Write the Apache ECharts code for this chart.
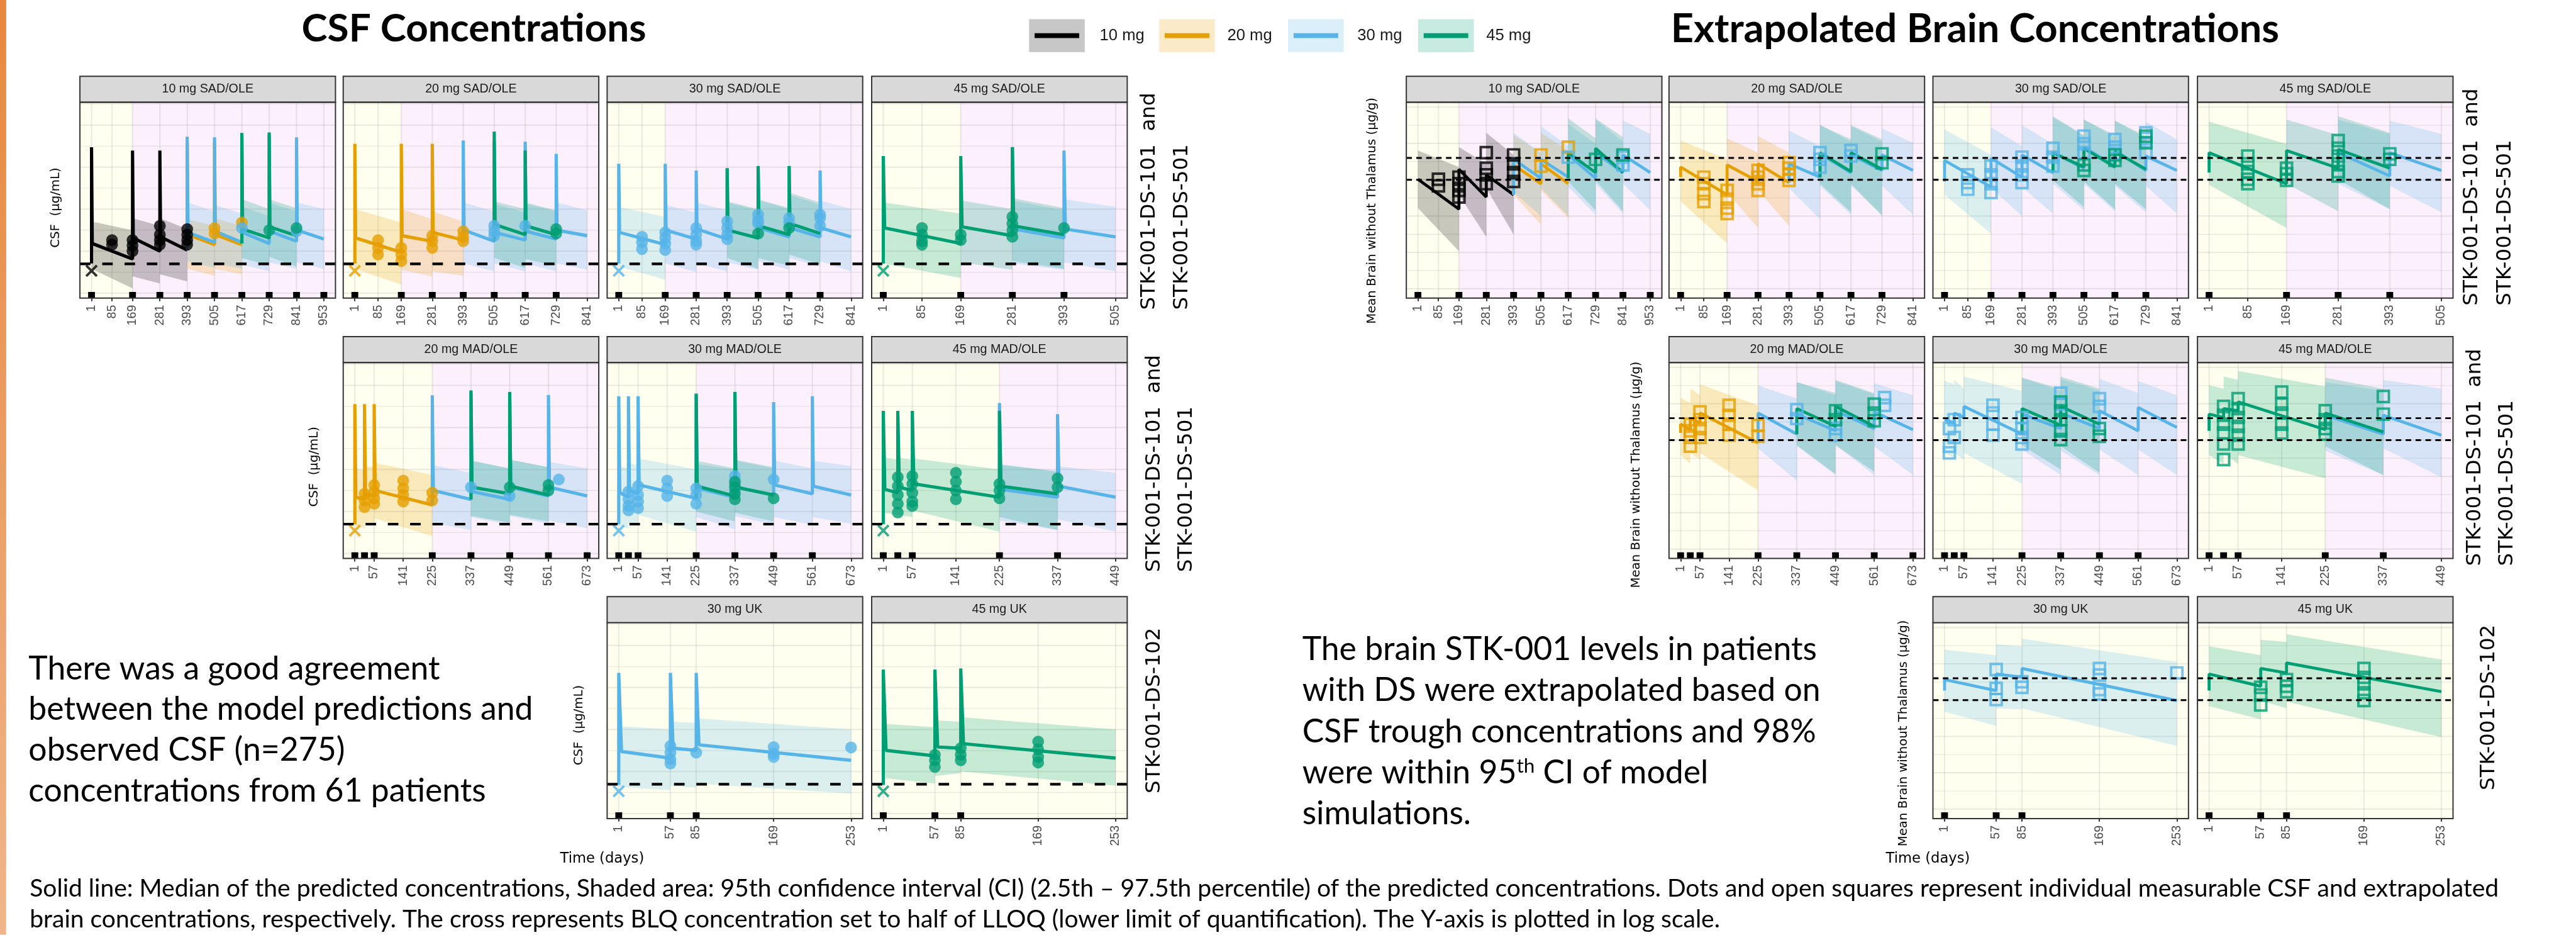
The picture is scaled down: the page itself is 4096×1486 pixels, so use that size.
<!DOCTYPE html>
<html>
<head>
<meta charset="utf-8">
<script src="https://cdn.jsdelivr.net/npm/echarts/dist/echarts.min.js"></script>
<style>
html,body{margin:0;padding:0;background:#ffffff;overflow:hidden;}
#chart{width:4096px;height:1486px;}
</style>
</head>
<body>
<div id="chart"></div>
<script>
// ------------------------------------------------------------------ data
const doseGroups = ['10 mg', '20 mg', '30 mg', '45 mg'];
const panelNames = ['10 mg SAD/OLE', '20 mg SAD/OLE', '30 mg SAD/OLE', '45 mg SAD/OLE',
  '20 mg MAD/OLE', '30 mg MAD/OLE', '45 mg MAD/OLE', '30 mg UK', '45 mg UK'];
const panelTicks = [
  [1, 85, 169, 281, 393, 505, 617, 729, 841, 953],
  [1, 85, 169, 281, 393, 505, 617, 729, 841],
  [1, 85, 169, 281, 393, 505, 617, 729, 841],
  [1, 85, 169, 281, 393, 505],
  [1, 57, 141, 225, 337, 449, 561, 673],
  [1, 57, 141, 225, 337, 449, 561, 673],
  [1, 57, 141, 225, 337, 449],
  [1, 57, 85, 169, 253],
  [1, 57, 85, 169, 253]
];
const oleStartDay = [169, 169, 169, 169, 225, 225, 225, null, null];
const doseDays = [
  [1, 169, 281, 393, 505, 617, 729, 841, 953],
  [1, 169, 281, 393, 505, 617, 729],
  [1, 169, 281, 393, 505, 617, 729],
  [1, 169, 281, 393],
  [1, 29, 57, 225, 337, 449, 561, 673],
  [1, 29, 57, 225, 337, 449, 561],
  [1, 29, 57, 225, 337],
  [1, 57, 85],
  [1, 57, 85]
];
const studyLabels = [['STK-001-DS-101  and', 'STK-001-DS-501'], ['STK-001-DS-101  and', 'STK-001-DS-501'], ['STK-001-DS-102']];

const csfLLOQ = 0.005;            // µg/mL
const brainTargetRange = [1, 4];  // µg/g
const csfAxisRange = [0.000762, 34.9];
const brainAxisRange = [0.00055, 135.8];
const postPeakDays = 3;

// CSF median + 95% CI per dosing interval
// [panel, doseGroup, doseDay, nextDay, preDose, peak, postPeak, trough, upper0, upper1, lower0, lower1]
const csfCurves = [
  [0,0,1,169,0.0051,2.98,0.0152,0.0065,0.051,0.0315,0.0038,0.0013],
  [0,0,169,281,null,2.48,0.0206,0.0100,0.061,0.040,0.0025,0.0017],
  [0,0,281,393,null,2.48,0.0219,0.0106,0.061,0.0335,0.0028,0.0019],
  [0,1,393,505,0.0106,4.0,0.0247,0.0143,0.058,0.040,0.0038,0.0026],
  [0,1,505,617,null,4.0,0.0247,0.0143,0.061,0.040,0.0038,0.0028],
  [0,2,393,505,0.0106,5.3,0.0279,0.0162,0.144,0.088,0.0058,0.0040],
  [0,2,505,617,null,5.1,0.0297,0.0162,0.127,0.078,0.0051,0.0038],
  [0,2,617,729,null,5.5,0.0279,0.0152,0.113,0.069,0.0048,0.0033],
  [0,2,729,841,null,5.7,0.0297,0.0172,0.144,0.088,0.0054,0.0038],
  [0,2,841,953,null,5.1,0.0315,0.0194,0.144,0.100,0.0054,0.0038],
  [0,3,617,729,0.0152,6.5,0.0335,0.0206,0.172,0.100,0.0069,0.0045],
  [0,3,729,841,null,6.7,0.0378,0.0233,0.172,0.106,0.0074,0.0043],
  [1,1,1,169,0.0051,3.6,0.0206,0.0094,0.100,0.048,0.0038,0.0016],
  [1,1,169,281,null,3.6,0.0233,0.0172,0.100,0.058,0.0036,0.0025],
  [1,1,281,393,null,3.6,0.0279,0.0183,0.088,0.051,0.0033,0.0026],
  [1,2,393,505,0.0183,4.3,0.0315,0.0172,0.144,0.088,0.0051,0.0033],
  [1,2,505,617,null,4.0,0.0279,0.0183,0.135,0.083,0.0051,0.0033],
  [1,2,617,729,null,4.0,0.0297,0.0194,0.135,0.088,0.0051,0.0033],
  [1,2,729,841,null,2.07,0.0315,0.0233,0.144,0.094,0.0051,0.0036],
  [1,3,505,617,0.0172,7.0,0.0427,0.0247,0.153,0.100,0.0069,0.0040],
  [1,3,617,729,null,2.48,0.040,0.0247,0.144,0.094,0.0065,0.0045],
  [2,2,1,169,0.0051,1.2,0.0279,0.0143,0.113,0.065,0.0043,0.0021],
  [2,2,169,281,null,1.2,0.0315,0.0194,0.127,0.083,0.0051,0.0032],
  [2,2,281,393,null,0.83,0.0335,0.0194,0.144,0.094,0.0051,0.0033],
  [2,2,393,505,null,0.94,0.0315,0.0206,0.144,0.094,0.0054,0.0036],
  [2,2,505,617,null,1.06,0.0356,0.0219,0.162,0.100,0.0058,0.0036],
  [2,2,617,729,null,1.06,0.0356,0.0219,0.22,0.127,0.0069,0.0043],
  [2,2,729,841,null,0.83,0.0356,0.0219,0.162,0.100,0.0058,0.0033],
  [2,3,393,505,0.0194,0.94,0.0315,0.0206,0.153,0.100,0.0069,0.0038],
  [2,3,505,617,null,1.06,0.040,0.0247,0.172,0.106,0.0069,0.0045],
  [2,3,617,729,null,1.06,0.0454,0.0263,0.248,0.144,0.0083,0.0048],
  [3,3,1,169,0.0051,1.83,0.0356,0.0152,0.144,0.078,0.0051,0.0023],
  [3,3,169,281,null,1.83,0.0378,0.0233,0.162,0.100,0.0054,0.0036],
  [3,3,281,393,null,2.98,0.040,0.0247,0.183,0.106,0.0058,0.0038],
  [3,2,281,393,0.0233,2.98,0.0335,0.0206,0.162,0.094,0.0051,0.0036],
  [3,2,393,505,null,2.48,0.0335,0.0219,0.172,0.113,0.0054,0.0033],
  [4,1,1,29,0.0050,3.6,0.0219,0.0194,0.106,0.094,0.0045,0.0040],
  [4,1,29,57,null,3.6,0.0263,0.0233,0.120,0.113,0.0051,0.0045],
  [4,1,57,225,null,3.6,0.0315,0.0143,0.144,0.074,0.0069,0.0026],
  [4,2,225,337,0.0143,5.8,0.0315,0.0194,0.127,0.083,0.0054,0.0036],
  [4,2,337,449,null,6.5,0.0297,0.0194,0.162,0.106,0.0074,0.0048],
  [4,2,449,561,null,6.5,0.0378,0.0233,0.172,0.113,0.0078,0.0051],
  [4,2,561,673,null,5.9,0.0378,0.0233,0.153,0.106,0.0061,0.0040],
  [4,3,337,449,0.0194,7.6,0.0378,0.0263,0.162,0.106,0.0078,0.0054],
  [4,3,449,561,null,7.0,0.040,0.0247,0.172,0.113,0.0083,0.0058],
  [5,2,1,29,0.0050,5.5,0.0279,0.0219,0.120,0.106,0.0045,0.0040],
  [5,2,29,57,null,5.5,0.0315,0.0263,0.144,0.127,0.0054,0.0048],
  [5,2,57,225,null,5.5,0.0427,0.0206,0.183,0.100,0.0083,0.0033],
  [5,2,225,337,null,6.5,0.0356,0.0219,0.135,0.100,0.0074,0.0038],
  [5,2,337,449,null,7.0,0.0378,0.0247,0.162,0.106,0.0078,0.0048],
  [5,2,449,561,null,4.0,0.0427,0.0263,0.162,0.106,0.0074,0.0048],
  [5,2,561,673,null,5.5,0.040,0.0247,0.162,0.120,0.0074,0.0051],
  [5,3,225,337,0.0206,6.2,0.040,0.0233,0.162,0.106,0.0100,0.0058],
  [5,3,337,449,null,7.0,0.0378,0.0247,0.172,0.113,0.0094,0.0058],
  [6,3,1,29,0.0050,2.48,0.0335,0.0279,0.194,0.172,0.0094,0.0083],
  [6,3,29,57,null,2.48,0.0378,0.0315,0.194,0.172,0.0083,0.0074],
  [6,3,57,225,null,2.48,0.0454,0.0219,0.183,0.100,0.0106,0.0033],
  [6,3,225,337,null,2.48,0.040,0.0263,0.135,0.088,0.0074,0.0036],
  [6,2,225,337,0.0219,3.8,0.0335,0.0219,0.127,0.094,0.0061,0.0036],
  [6,2,337,449,null,2.07,0.040,0.0219,0.120,0.083,0.0065,0.0033],
  [7,2,1,57,0.0048,2.23,0.030,0.0209,0.121,0.101,0.0043,0.0036],
  [7,2,57,85,null,2.23,0.036,0.0319,0.154,0.145,0.0046,0.0041],
  [7,2,85,253,null,2.23,0.0432,0.0185,0.185,0.101,0.0052,0.0030],
  [8,3,1,57,0.0048,2.67,0.0319,0.0236,0.137,0.114,0.0070,0.0052],
  [8,3,57,85,null,2.67,0.0383,0.036,0.164,0.154,0.0078,0.0092],
  [8,3,85,253,null,2.84,0.0459,0.0209,0.197,0.101,0.0101,0.0046]
];

// observed CSF concentrations [panel, doseGroup, day, µg/mL]
const csfObs = [
  [0,0,85,0.0183],[0,0,85,0.0143],[0,0,169,0.0183],[0,0,169,0.0135],[0,0,169,0.0100],
  [0,0,281,0.040],[0,0,281,0.0247],[0,0,281,0.0183],[0,0,281,0.0143],
  [0,0,393,0.0335],[0,0,393,0.0247],[0,0,393,0.0183],[0,0,393,0.0143],
  [0,1,505,0.0356],[0,1,505,0.0263],[0,1,617,0.0482],[0,2,617,0.0356],[0,3,729,0.0315],[0,3,841,0.0356],[0,2,841,0.0297],
  [1,1,85,0.0183],[1,1,85,0.012],[1,1,85,0.0083],[1,1,169,0.012],[1,1,169,0.0083],[1,1,169,0.0058],
  [1,1,281,0.0233],[1,1,281,0.0172],[1,1,281,0.012],[1,1,393,0.0297],[1,1,393,0.0219],[1,1,393,0.0172],
  [1,2,505,0.040],[1,2,505,0.0297],[1,2,505,0.0233],[1,2,617,0.040],[1,3,729,0.0335],[1,3,729,0.0263],
  [2,2,85,0.0219],[2,2,85,0.0162],[2,2,85,0.0112],
  [2,2,169,0.0279],[2,2,169,0.0206],[2,2,169,0.0152],[2,2,169,0.0106],
  [2,2,281,0.0356],[2,2,281,0.0247],[2,2,281,0.0172],[2,2,281,0.0143],
  [2,2,393,0.0512],[2,2,393,0.0356],[2,2,393,0.0247],[2,2,393,0.0194],
  [2,2,505,0.0737],[2,2,505,0.0544],[2,2,505,0.0454],[2,2,617,0.0614],[2,2,617,0.0482],
  [2,2,729,0.0737],[2,2,729,0.0614],[2,2,729,0.040],[2,3,505,0.0263],[2,3,617,0.0356],
  [3,3,85,0.0356],[3,3,85,0.0247],[3,3,85,0.0172],[3,3,85,0.0143],[3,3,169,0.0247],[3,3,169,0.0183],
  [3,3,281,0.0653],[3,3,281,0.0454],[3,3,281,0.0315],[3,3,281,0.0219],[3,3,393,0.0356],
  [4,1,29,0.0263],[4,1,29,0.0183],[4,1,29,0.0127],
  [4,1,57,0.0427],[4,1,57,0.0297],[4,1,57,0.0206],[4,1,57,0.0152],
  [4,1,141,0.0544],[4,1,141,0.0356],[4,1,141,0.0247],[4,1,141,0.0172],
  [4,1,225,0.0279],[4,1,225,0.0183],[4,2,337,0.0378],[4,2,449,0.0233],[4,2,591,0.0578],
  [4,3,449,0.0378],[4,3,561,0.0427],[4,3,561,0.0315],
  [5,2,29,0.0297],[5,2,29,0.0194],[5,2,29,0.0135],[5,2,29,0.0106],
  [5,2,57,0.040],[5,2,57,0.0247],[5,2,57,0.0172],[5,2,57,0.012],
  [5,2,141,0.0544],[5,2,141,0.0356],[5,2,141,0.0233],
  [5,2,225,0.0356],[5,2,225,0.0247],[5,2,225,0.0152],
  [5,2,337,0.0694],[5,2,337,0.0454],[5,2,337,0.0315],[5,2,449,0.0578],
  [5,3,337,0.0512],[5,3,337,0.0378],[5,3,337,0.0263],[5,3,337,0.0194],[5,3,449,0.0206],
  [6,3,29,0.0653],[6,3,29,0.040],[6,3,29,0.0247],[6,3,29,0.0152],[6,3,29,0.0094],
  [6,3,57,0.0694],[6,3,57,0.0454],[6,3,57,0.0279],[6,3,57,0.0172],[6,3,57,0.0135],
  [6,3,141,0.0832],[6,3,141,0.0512],[6,3,141,0.0315],[6,3,141,0.0194],
  [6,3,225,0.0454],[6,3,225,0.0315],[6,3,225,0.0206],[6,3,337,0.0614],[6,3,337,0.0378],
  [7,2,57,0.0407],[7,2,57,0.0283],[7,2,57,0.0196],[7,2,57,0.0154],[7,2,85,0.0283],
  [7,2,169,0.0383],[7,2,169,0.0266],[7,2,169,0.0222],[7,2,253,0.0374],
  [8,3,57,0.025],[8,3,57,0.0185],[8,3,57,0.0129],[8,3,85,0.036],[8,3,85,0.025],[8,3,85,0.0185],
  [8,3,169,0.0518],[8,3,169,0.0339],[8,3,169,0.0222],[8,3,169,0.0164]
];

// BLQ samples set to half LLOQ [panel, doseGroup, day, µg/mL]
const csfBlq = [
  [0,0,1,0.0034],[1,1,1,0.0034],[2,2,1,0.0034],[3,3,1,0.0034],[4,1,1,0.0035],
  [5,2,1,0.0035],[6,3,1,0.0035],[7,2,1,0.0034],[8,3,1,0.0034]
];

// Brain median + 95% CI per dosing interval
// [panel, doseGroup, doseDay, nextDay, preDose, postDose, trough, upper0, upper1, lower0, lower1]
const brainCurves = [
  [0,0,1,169,null,1.03,0.155,6.4,2.23,0.166,0.0108],
  [0,0,169,281,null,1.94,0.335,7.9,2.75,0.386,0.0268],
  [0,0,281,393,null,1.36,0.386,19.6,4.8,0.587,0.0309],
  [0,1,393,505,0.386,2.56,0.778,17.0,5.55,0.386,0.058],
  [0,1,505,617,null,2.75,0.778,19.6,6.4,0.51,0.088],
  [0,2,393,505,0.386,3.64,1.10,19.6,5.55,0.444,0.102],
  [0,2,505,617,null,3.64,1.18,29.9,8.45,0.587,0.102],
  [0,2,617,729,null,4.82,1.10,34.4,9.7,0.63,0.109],
  [0,2,729,841,null,5.55,1.57,45.5,11.2,0.778,0.117],
  [0,2,841,953,null,4.82,1.57,42.4,18.3,0.778,0.144],
  [0,3,617,729,1.10,5.55,1.57,48.8,13.8,0.895,0.144],
  [0,3,729,841,null,7.34,1.57,48.8,14.8,0.96,0.135],
  [1,1,1,169,1.18,2.23,0.386,12.0,3.64,0.253,0.0176],
  [1,1,169,281,null,2.56,0.895,13.8,5.55,0.444,0.047],
  [1,1,281,393,null,2.75,0.834,15.9,5.55,0.51,0.054],
  [1,2,393,505,0.834,2.75,1.18,22.6,8.45,0.587,0.082],
  [1,2,505,617,null,5.17,1.57,32.0,11.2,0.676,0.109],
  [1,2,617,729,null,4.82,1.80,29.9,11.2,0.676,0.109],
  [1,2,729,841,null,4.82,1.80,26.0,10.4,0.676,0.109],
  [1,3,505,617,1.18,5.55,1.68,32.0,12.9,0.778,0.126],
  [1,3,617,729,null,5.55,1.94,32.0,12.9,0.778,0.102],
  [2,2,1,169,0.895,3.40,0.63,24.2,4.82,0.386,0.033],
  [2,2,169,281,null,3.91,1.18,27.8,8.45,0.587,0.102],
  [2,2,281,393,null,4.82,1.57,32.0,9.7,0.63,0.117],
  [2,2,393,505,null,5.55,2.08,52.4,15.9,0.778,0.144],
  [2,2,505,617,null,7.88,2.39,45.5,14.8,0.778,0.135],
  [2,2,617,729,null,6.38,1.80,42.4,13.8,0.676,0.126],
  [2,2,729,841,null,4.49,1.80,39.5,12.9,0.676,0.117],
  [2,3,393,505,1.57,5.55,2.23,56.2,17.0,0.96,0.178],
  [2,3,505,617,null,7.34,2.23,45.5,17.0,0.895,0.155],
  [2,3,617,729,null,5.95,1.94,42.4,15.9,0.778,0.155],
  [3,3,1,169,1.57,5.55,0.778,39.5,9.7,0.725,0.047],
  [3,3,169,281,null,6.38,2.08,45.5,17.0,0.778,0.135],
  [3,3,281,393,null,6.84,2.08,56.2,19.6,1.03,0.155],
  [3,2,281,393,2.08,5.55,1.27,45.5,18.3,0.778,0.155],
  [3,2,393,505,null,5.55,1.80,42.4,18.3,0.676,0.126],
  [4,1,1,29,1.57,2.75,1.94,14.8,10.4,0.386,0.22],
  [4,1,29,57,null,3.91,2.95,26.0,17.0,0.444,0.291],
  [4,1,57,225,null,5.55,0.834,34.4,9.06,0.444,0.041],
  [4,2,225,337,0.834,5.55,1.46,32.0,13.8,0.587,0.077],
  [4,2,337,449,null,5.17,1.80,39.5,17.0,0.676,0.109],
  [4,2,449,561,null,6.38,2.08,42.4,18.3,0.725,0.109],
  [4,2,561,673,null,5.95,1.94,36.9,17.0,0.676,0.109],
  [4,3,337,449,1.46,7.34,2.39,39.5,19.6,0.725,0.117],
  [4,3,449,561,null,8.45,2.39,45.5,19.6,0.725,0.135],
  [5,2,1,29,null,3.64,2.95,42.4,34.4,0.444,0.313],
  [5,2,29,57,null,5.55,4.19,45.5,26.0,0.444,0.291],
  [5,2,57,225,null,8.45,1.46,56.2,22.6,0.444,0.062],
  [5,2,225,337,null,5.17,2.08,52.4,22.6,0.548,0.109],
  [5,2,337,449,null,5.55,2.08,48.8,22.6,0.51,0.109],
  [5,2,449,561,null,6.38,1.80,48.8,19.6,0.548,0.109],
  [5,2,561,673,null,7.88,2.23,42.4,17.0,0.548,0.109],
  [5,3,225,337,1.46,7.34,2.56,52.4,26.0,0.725,0.155],
  [5,3,337,449,null,8.45,2.75,56.2,26.0,0.676,0.126],
  [6,3,1,29,1.80,5.17,4.19,32.0,26.0,0.386,0.22],
  [6,3,29,57,null,7.34,6.38,56.2,45.5,0.444,0.22],
  [6,3,57,225,null,11.2,1.94,79.8,29.9,0.386,0.088],
  [6,3,225,337,null,5.55,1.68,52.4,26.0,0.676,0.109],
  [6,2,225,337,1.94,4.82,1.46,39.5,22.6,0.51,0.109],
  [6,2,337,449,null,4.82,1.36,45.5,26.0,0.587,0.095],
  [7,2,1,57,1.83,3.69,1.83,24.5,17.3,0.483,0.194],
  [7,2,57,85,null,5.24,4.25,34.8,30.3,0.596,0.556],
  [7,2,85,253,null,7.45,0.973,49.5,11.3,0.596,0.055],
  [8,3,1,57,1.83,5.24,2.42,30.3,17.3,0.686,0.295],
  [8,3,57,85,null,7.45,5.62,46.1,40.1,0.973,0.596],
  [8,3,85,253,null,10.6,1.71,65.5,13.1,0.907,0.096]
];

// extrapolated brain concentrations [panel, doseGroup, day, µg/g]
const brainObs = [
  [0,0,85,1.03],[0,0,85,0.676],[0,0,169,1.18],[0,0,169,0.778],[0,0,169,0.51],[0,0,169,0.335],
  [0,0,281,5.55],[0,0,281,2.08],[0,0,281,1.36],[0,0,281,0.778],
  [0,0,393,4.82],[0,0,393,2.75],[0,0,393,1.57],[0,0,393,0.895],
  [0,1,505,4.82],[0,1,505,2.39],[0,1,617,7.88],[0,2,617,4.19],[0,3,729,3.64],[0,3,841,4.82],[0,2,841,4.19],[0,2,841,2.56],
  [1,1,85,1.18],[1,1,85,0.778],[1,1,85,0.414],[1,1,85,0.253],[1,1,169,0.51],[1,1,169,0.291],[1,1,169,0.166],[1,1,169,0.117],
  [1,1,281,1.80],[1,1,281,1.18],[1,1,281,0.778],[1,1,281,0.51],[1,1,393,2.95],[1,1,393,2.08],[1,1,393,1.36],[1,1,393,0.96],
  [1,2,505,5.55],[1,2,505,3.64],[1,2,505,2.23],[1,2,617,6.38],[1,2,617,4.49],[1,3,729,5.17],[1,3,729,2.95],
  [2,2,85,1.36],[2,2,85,0.834],[2,2,85,0.548],[2,2,169,2.39],[2,2,169,1.36],[2,2,169,0.778],[2,2,169,0.444],
  [2,2,281,4.19],[2,2,281,2.39],[2,2,281,1.36],[2,2,281,0.834],[2,2,393,7.34],[2,2,393,4.19],[2,2,393,2.39],
  [2,2,505,15.9],[2,2,505,9.7],[2,2,505,5.55],[2,2,617,12.9],[2,2,617,7.88],[2,2,617,5.17],
  [2,2,729,19.6],[2,2,729,13.8],[2,2,729,5.55],
  [2,3,505,2.56],[2,3,505,1.80],[2,3,617,4.82],[2,3,617,3.40],[2,3,729,15.9],[2,3,729,10.4],
  [3,3,85,4.49],[3,3,85,2.75],[3,3,85,1.68],[3,3,85,1.03],[3,3,85,0.778],[3,3,169,2.08],[3,3,169,1.46],[3,3,169,0.96],
  [3,3,281,12.0],[3,3,281,7.34],[3,3,281,4.49],[3,3,281,2.75],[3,3,281,1.68],[3,3,281,1.27],[3,3,393,5.17],[3,3,393,3.64],
  [4,1,29,2.75],[4,1,29,1.80],[4,1,29,1.18],[4,1,29,0.676],[4,1,57,5.95],[4,1,57,3.64],[4,1,57,2.08],[4,1,57,1.18],
  [4,1,141,9.06],[4,1,141,4.82],[4,1,141,2.75],[4,1,141,1.36],[4,1,225,2.56],[4,1,225,1.27],
  [4,2,337,6.84],[4,2,337,3.91],[4,2,449,2.08],[4,2,449,1.36],[4,2,591,14.8],[4,2,591,9.06],
  [4,3,449,6.38],[4,3,449,3.64],[4,3,561,9.7],[4,3,561,5.55],[4,3,561,3.40],
  [5,2,15,2.08],[5,2,15,0.676],[5,2,15,0.444],[5,2,29,3.64],[5,2,29,1.18],
  [5,2,141,9.06],[5,2,141,5.55],[5,2,141,2.75],[5,2,141,1.36],[5,2,225,4.19],[5,2,225,2.08],[5,2,225,1.18],[5,2,225,0.778],
  [5,2,337,19.6],[5,2,337,9.7],[5,2,337,1.80],[5,2,449,13.8],[5,2,449,8.45],
  [5,3,337,11.2],[5,3,337,6.38],[5,3,337,3.64],[5,3,337,1.80],[5,3,337,1.03],[5,3,449,2.08],[5,3,449,1.27],
  [6,3,29,8.45],[6,3,29,4.82],[6,3,29,2.75],[6,3,29,1.57],[6,3,29,0.778],[6,3,29,0.291],
  [6,3,57,13.8],[6,3,57,7.34],[6,3,57,4.19],[6,3,57,2.39],[6,3,57,1.36],[6,3,57,0.778],
  [6,3,141,21.0],[6,3,141,9.7],[6,3,141,5.55],[6,3,141,2.75],[6,3,141,1.57],
  [6,3,225,6.38],[6,3,225,3.64],[6,3,225,2.08],[6,3,225,1.46],[6,3,337,15.9],[6,3,337,5.17],
  [7,2,57,6.94],[7,2,57,2.11],[7,2,57,1.04],[7,2,85,3.21],[7,2,85,2.26],
  [7,2,169,7.45],[7,2,169,4.89],[7,2,169,1.96],[7,2,169,1.48],[7,2,253,5.62],
  [8,3,57,2.26],[8,3,57,1.38],[8,3,57,0.735],[8,3,85,3.69],[8,3,85,2.42],[8,3,85,1.71],
  [8,3,169,7.45],[8,3,169,4.25],[8,3,169,2.79],[8,3,169,1.59],[8,3,169,0.973]
];

// ------------------------------------------------------------------ layout & style
const S = 4096 / 4158;
const GROUP_COLORS = ['#000000', '#E69F00', '#56B4E9', '#009E73'];
const BAND_ALPHA = 0.22;
const GRID_COLOR = 'rgba(120,120,120,0.15)';
const CSF_COLS = [129, 554, 980, 1407];
const BRAIN_COLS = [2270, 2694, 3120, 3547];
const ROW_TOPS = [165, 585, 1004.6];
const PANEL_W = 412.5, PANEL_H = 316, STRIP_H = 42;
const PANEL_CELL = [[0,0],[0,1],[0,2],[0,3],[1,1],[1,2],[1,3],[2,2],[2,3]];
const X_PATH = 'path://M0,1.4L1.4,0L5,3.6L8.6,0L10,1.4L6.4,5L10,8.6L8.6,10L5,6.4L1.4,10L0,8.6L3.6,5Z';

function rgba(hex, a) {
  const n = parseInt(hex.slice(1), 16);
  return 'rgba(' + ((n >> 16) & 255) + ',' + ((n >> 8) & 255) + ',' + (n & 255) + ',' + a + ')';
}

const figures = [
  { curves: csfCurves, obs: csfObs, blq: csfBlq, yRange: csfAxisRange, cols: CSF_COLS, spike: true,
    thresholds: [csfLLOQ], thrWidth: 4.3, thrDash: [17, 19], lineWidth: 5.2 },
  { curves: brainCurves, obs: brainObs, blq: [], yRange: brainAxisRange, cols: BRAIN_COLS, spike: false,
    thresholds: brainTargetRange, thrWidth: 3, thrDash: [9, 7], lineWidth: 4.8 }
];

const grids = [], xAxes = [], yAxes = [], series = [];

figures.forEach(function (fig) {
  const ymin = fig.yRange[0], ymax = fig.yRange[1];
  PANEL_CELL.forEach(function (cell, p) {
    const gi = grids.length;
    const left = fig.cols[cell[1]], top = ROW_TOPS[cell[0]];
    grids.push({ left: left * S, top: top * S, width: PANEL_W * S, height: PANEL_H * S, show: false });
    const ticks = panelTicks[p];
    const tA = ticks[0], tB = ticks[ticks.length - 1], pad = 0.05 * (tB - tA);
    const xmin = tA - pad, xmax = tB + pad;
    xAxes.push({
      type: 'value', gridIndex: gi, min: xmin, max: xmax,
      axisLine: { show: false }, splitLine: { show: false },
      axisTick: { show: true, customValues: ticks, length: 5 * S, lineStyle: { color: '#333333', width: 2 * S } },
      axisLabel: { customValues: ticks, rotate: 90, margin: 11 * S, fontSize: 20 * S, color: '#4D4D4D', fontFamily: 'Liberation Sans' }
    });
    yAxes.push({
      type: 'log', logBase: 10, gridIndex: gi, min: ymin, max: ymax,
      axisLine: { show: false }, axisTick: { show: false }, axisLabel: { show: false }, splitLine: { show: false }
    });
    const ole = oleStartDay[p];
    const common = { xAxisIndex: gi, yAxisIndex: gi, silent: true, animation: false };

    // backgrounds (study phase) + grid lines
    series.push(Object.assign({
      type: 'custom', z: 1, clip: true, data: [[xmin, ymin]],
      renderItem: function (params, api) {
        const tl = api.coord([xmin, ymax]), br = api.coord([xmax, ymin]);
        const xo = ole == null ? br[0] : api.coord([ole, ymin])[0];
        const ch = [];
        ch.push({ type: 'rect', shape: { x: tl[0], y: tl[1], width: xo - tl[0], height: br[1] - tl[1] }, style: { fill: '#FFFFF0' } });
        if (ole != null) ch.push({ type: 'rect', shape: { x: xo, y: tl[1], width: br[0] - xo, height: br[1] - tl[1] }, style: { fill: '#FCF0FC' } });
        for (let k = Math.floor(Math.log10(ymin)); k <= Math.ceil(Math.log10(ymax)); k++) {
          [[Math.pow(10, k), 2.2], [Math.pow(10, k + 0.5), 1.3]].forEach(function (gv) {
            if (gv[0] <= ymin || gv[0] >= ymax) return;
            const y = api.coord([xmin, gv[0]])[1];
            ch.push({ type: 'line', shape: { x1: tl[0], y1: y, x2: br[0], y2: y }, style: { stroke: GRID_COLOR, lineWidth: gv[1] * S } });
          });
        }
        ticks.forEach(function (t) {
          const x = api.coord([t, ymin])[0];
          ch.push({ type: 'line', shape: { x1: x, y1: tl[1], x2: x, y2: br[1] }, style: { stroke: GRID_COLOR, lineWidth: 2.2 * S } });
        });
        return { type: 'group', children: ch };
      }
    }, common));

    for (let g = 0; g < 4; g++) {
      const rows = fig.curves.filter(function (r) { return r[0] === p && r[1] === g; });
      if (!rows.length) continue;
      const b = fig.spike ? 8 : 7;
      // CI band
      series.push(Object.assign({
        type: 'custom', z: 2, clip: true,
        data: rows.map(function (r) { return [r[2], r[3], r[b], r[b + 1], r[b + 2], r[b + 3]]; }),
        encode: { x: [0, 1], y: [2, 3, 4, 5] },
        renderItem: function (params, api) {
          const t0 = api.value(0), t1 = api.value(1);
          const pts = [api.coord([t0, api.value(2)]), api.coord([t1, api.value(3)]),
                       api.coord([t1, api.value(5)]), api.coord([t0, api.value(4)])];
          return { type: 'polygon', shape: { points: pts }, style: { fill: rgba(GROUP_COLORS[g], BAND_ALPHA) } };
        }
      }, common));
      // median line
      const pts = [];
      rows.forEach(function (r) {
        if (fig.spike) {
          if (r[4] != null) pts.push([r[2], r[4]]);
          pts.push([r[2], r[5]]);
          pts.push([r[2] + postPeakDays, r[6]]);
          pts.push([r[3], r[7]]);
        } else {
          if (r[4] != null) pts.push([r[2], r[4]]);
          pts.push([r[2], r[5]]);
          pts.push([r[3], r[6]]);
        }
      });
      series.push(Object.assign({
        type: 'line', z: 3, clip: true, data: pts, symbol: 'none', showSymbol: false,
        lineStyle: { color: GROUP_COLORS[g], width: fig.lineWidth * S }
      }, common));
    }

    // observations
    for (let g = 0; g < 4; g++) {
      const obs = fig.obs.filter(function (r) { return r[0] === p && r[1] === g; }).map(function (r) { return [r[2], r[3]]; });
      if (obs.length) {
        series.push(Object.assign({
          type: 'scatter', z: 4, clip: true, data: obs,
          symbol: fig.spike ? 'circle' : 'rect', symbolSize: (fig.spike ? 19 : 18) * S,
          itemStyle: fig.spike ? { color: GROUP_COLORS[g] } :
            { color: 'rgba(0,0,0,0)', borderColor: GROUP_COLORS[g], borderWidth: 4 * S }
        }, common));
      }
      const blq = fig.blq.filter(function (r) { return r[0] === p && r[1] === g; }).map(function (r) { return [r[2], r[3]]; });
      if (blq.length) {
        series.push(Object.assign({
          type: 'scatter', z: 4, clip: true, data: blq, symbol: X_PATH, symbolSize: 20 * S,
          itemStyle: { color: GROUP_COLORS[g] }
        }, common));
      }
    }

    // dose markers
    series.push(Object.assign({
      type: 'custom', z: 4, clip: true, data: doseDays[p].map(function (d) { return [d, ymin]; }),
      renderItem: function (params, api) {
        const pt = api.coord([api.value(0), ymin]);
        return { type: 'rect', shape: { x: pt[0] - 5.5 * S, y: pt[1] - 10 * S, width: 11 * S, height: 10 * S }, style: { fill: '#000000' } };
      }
    }, common));

    // reference lines (LLOQ / target range)
    series.push(Object.assign({
      type: 'custom', z: 5, clip: true, data: fig.thresholds.map(function (v) { return [xmin, v]; }),
      renderItem: function (params, api) {
        const v = api.value(1);
        const a = api.coord([xmin, v]), c = api.coord([xmax, v]);
        return { type: 'line', shape: { x1: a[0], y1: a[1], x2: c[0], y2: c[1] },
          style: { stroke: '#000000', lineWidth: fig.thrWidth * S, lineDash: fig.thrDash.map(function (d) { return d * S; }) } };
      }
    }, common));
  });
});

// ------------------------------------------------------------------ graphic texts & decorations
const G = [];
function txt(x, y, text, o) {
  const e = { type: 'text', z: 55, silent: true, x: x * S, y: y * S, rotation: o.rot || 0,
    style: { text: text, fontFamily: o.family || 'Liberation Sans', fontWeight: o.weight || 'normal',
      fontSize: o.size * S, fill: o.color || '#000000', align: o.align || 'left', verticalAlign: o.va || 'middle' } };
  if (o.rich) e.style.rich = o.rich;
  G.push(e);
}

G.push({ type: 'rect', z: 50, silent: true, shape: { x: 0, y: 0, width: 10 * S, height: 1508 * S },
  style: { fill: new echarts.graphic.LinearGradient(0, 0, 0, 1, [{ offset: 0, color: '#E8873D' }, { offset: 1, color: '#EFB58A' }]) } });

txt(765, 47, 'CSF Concentrations', { family: 'Lato', weight: 'bold', size: 63, align: 'center' });
txt(3188, 47, 'Extrapolated Brain Concentrations', { family: 'Lato', weight: 'bold', size: 64, align: 'center' });

const LEGEND_KEY_X = [1661, 1871, 2079, 2289];
const LEGEND_LABEL_X = [1775, 1981, 2191, 2399];
doseGroups.forEach(function (name, g) {
  G.push({ type: 'rect', z: 50, silent: true, shape: { x: LEGEND_KEY_X[g] * S, y: 31 * S, width: 90 * S, height: 53 * S },
    style: { fill: rgba(GROUP_COLORS[g], BAND_ALPHA) } });
  G.push({ type: 'line', z: 51, silent: true, shape: { x1: (LEGEND_KEY_X[g] + 9) * S, y1: 57.5 * S, x2: (LEGEND_KEY_X[g] + 81) * S, y2: 57.5 * S },
    style: { stroke: GROUP_COLORS[g], lineWidth: 8 * S } });
  txt(LEGEND_LABEL_X[g], 58, name, { size: 26, color: '#1A1A1A' });
});

[CSF_COLS, BRAIN_COLS].forEach(function (cols) {
  PANEL_CELL.forEach(function (cell, p) {
    const x = cols[cell[1]], y = ROW_TOPS[cell[0]];
    G.push({ type: 'rect', z: 52, silent: true, shape: { x: x * S, y: (y - STRIP_H) * S, width: PANEL_W * S, height: STRIP_H * S },
      style: { fill: '#D9D9D9', stroke: '#333333', lineWidth: 2 * S } });
    txt(x + PANEL_W / 2, y - STRIP_H / 2, panelNames[p], { size: 20, color: '#1A1A1A', align: 'center' });
    G.push({ type: 'rect', z: 52, silent: true, shape: { x: x * S, y: y * S, width: PANEL_W * S, height: PANEL_H * S },
      style: { fill: 'none', stroke: '#333333', lineWidth: 2 * S } });
  });
});

// y-axis titles
[[90, 335], [507, 753], [935, 1170]].forEach(function (pos) {
  txt(pos[0], pos[1], 'CSF  (µg/mL)', { family: 'DejaVu Sans', size: 20, align: 'center', rot: Math.PI / 2 });
});
[[2215, 340], [2641, 766], [3073, 1183]].forEach(function (pos) {
  txt(pos[0], pos[1], 'Mean Brain without Thalamus (µg/g)', { family: 'DejaVu Sans', size: 20, align: 'center', rot: Math.PI / 2 });
});

// study strip labels (right side)
[
  { xs: [1855, 1908], yb: 500, row: 0 }, { xs: [1863, 1915], yb: 923, row: 1 }, { xs: [1863], yb: 1280, row: 2 },
  { xs: [3990, 4044], yb: 493, row: 0 }, { xs: [3995, 4047], yb: 913, row: 1 }, { xs: [4017], yb: 1275, row: 2 }
].forEach(function (s) {
  studyLabels[s.row].forEach(function (line, i) {
    txt(s.xs[i], s.yb, line, { family: 'DejaVu Sans', size: 33, align: 'left', rot: Math.PI / 2 });
  });
});

txt(904, 1386, 'Time (days)', { family: 'DejaVu Sans', size: 23 });
txt(3044, 1386, 'Time (days)', { family: 'DejaVu Sans', size: 23 });

// paragraphs
['There was a good agreement', 'between the model predictions and', 'observed CSF (n=275)', 'concentrations from 61 patients']
  .forEach(function (line, i) { txt(46, 1079 + 65.7 * i, line, { family: 'Lato', size: 52.5 }); });

const paraRich = {
  a: { fontFamily: 'Lato', fontSize: 52.5 * S, fill: '#000000', color: '#000000' },
  b: { fontFamily: 'Lato', fontSize: 32 * S, fill: '#000000', color: '#000000', verticalAlign: 'top' }
};
['The brain STK-001 levels in patients', 'with DS were extrapolated based on', 'CSF trough concentrations and 98%',
 '{a|were within 95}{b|th}{a| CI of model}', 'simulations.']
  .forEach(function (line, i) {
    const isRich = line.indexOf('{a|') === 0;
    txt(2102, 1048 + 66.3 * i, line, { family: 'Lato', size: 52.5, rich: isRich ? paraRich : null });
  });

// caption on a white box (it overlaps the bottom of the "Time (days)" labels)
G.push({ type: 'rect', z: 60, silent: true, shape: { x: 10 * S, y: 1397 * S, width: 4148 * S, height: 111 * S }, style: { fill: '#ffffff' } });
const captionLines = [
  'Solid line: Median of the predicted concentrations, Shaded area: 95th confidence interval (CI) (2.5th – 97.5th percentile) of the predicted concentrations. Dots and open squares represent individual measurable CSF and extrapolated',
  'brain concentrations, respectively. The cross represents BLQ concentration set to half of LLOQ (lower limit of quantification). The Y-axis is plotted in log scale.'
];
captionLines.forEach(function (line, i) {
  G.push({ type: 'text', z: 61, silent: true, x: 48 * S, y: (1434 + 50 * i) * S,
    style: { text: line, fontFamily: 'Lato', fontSize: 39.6 * S, fill: '#000000', align: 'left', verticalAlign: 'middle' } });
});

// ------------------------------------------------------------------ render
const chart = echarts.init(document.getElementById('chart'), null, { renderer: 'canvas', width: 4096, height: 1486 });
chart.setOption({
  animation: false,
  backgroundColor: '#ffffff',
  grid: grids, xAxis: xAxes, yAxis: yAxes, series: series,
  graphic: { elements: G }
});
</script>
</body>
</html>
